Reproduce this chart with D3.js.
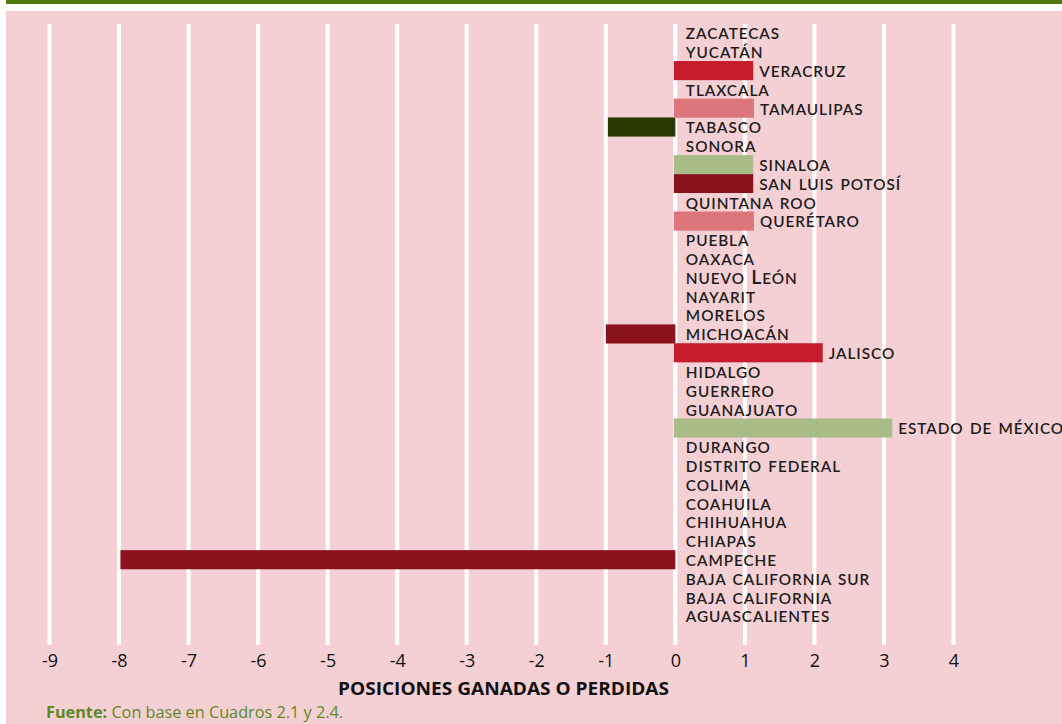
<!DOCTYPE html>
<html>
<head>
<meta charset="utf-8">
<script src="https://cdn.jsdelivr.net/npm/d3@7"></script>
<style>
html, body { margin: 0; padding: 0; background: #ffffff; }
svg { display: block; }
</style>
</head>
<body>
<svg id="chart" width="1062" height="724"></svg>
<script>
// States, alphabetical (bottom to top in the chart)
const states = [
  "aguascalientes", "baja california", "baja california sur", "campeche", "chiapas",
  "chihuahua", "coahuila", "colima", "distrito federal", "durango",
  "estado de méxico", "guanajuato", "guerrero", "hidalgo", "jalisco",
  "michoacán", "morelos", "nayarit", "nuevo León", "oaxaca",
  "puebla", "querétaro", "quintana roo", "san luis potosí", "sinaloa",
  "sonora", "tabasco", "tamaulipas", "tlaxcala", "veracruz",
  "yucatán", "zacatecas"
];
// Positions gained (+) or lost (-), as drawn
const positions = [
  0, 0, 0, -7.98, 0,
  0, 0, 0, 0, 0,
  3.12, 0, 0, 0, 2.12,
  -1.0, 0, 0, 0, 0,
  0, 1.13, 0, 1.12, 1.12,
  0, -0.97, 1.13, 0, 1.12,
  0, 0
];
// Colour group of each bar
const groups = [
  "none", "none", "none", "darkred", "none",
  "none", "none", "none", "none", "none",
  "sage", "none", "none", "none", "red",
  "darkred", "none", "none", "none", "none",
  "none", "pink", "none", "darkred", "sage",
  "none", "olive", "pink", "none", "red",
  "none", "none"
];
const tickValues = [-9, -8, -7, -6, -5, -4, -3, -2, -1, 0, 1, 2, 3, 4];
const axisTitle = "POSICIONES GANADAS O PERDIDAS";
const sourceBold = "Fuente:";
const sourceText = " Con base en Cuadros 2.1 y 2.4.";

const groupColors = {
  red: "#c41c2a",
  pink: "#dc767c",
  olive: "#283800",
  sage: "#a8bc88",
  darkred: "#8a121d",
  none: "none"
};

const svg = d3.select("#chart");
const W = 1062, H = 724;

// top green rule and pink panel
svg.append("rect").attr("x", 6).attr("y", 0).attr("width", W - 6).attr("height", 4).attr("fill", "#527a12");
svg.append("rect").attr("x", 6).attr("y", 11).attr("width", W - 6).attr("height", H - 11).attr("fill", "#f4d0d5");

const x = d3.scaleLinear().domain([-9, 4]).range([49.5, 953.5]);
const y = d3.scaleBand().domain(states.slice().reverse()).range([23.4, 625.4]).padding(0);

// gridlines
svg.append("g").selectAll("line").data(tickValues).join("line")
  .attr("x1", d => x(d)).attr("x2", d => x(d))
  .attr("y1", 24).attr("y2", 645)
  .attr("stroke", "#ffffff").attr("stroke-width", 4);

const data = states.map((s, i) => ({ name: s, v: positions[i], g: groups[i] }));

// bars
svg.append("g").selectAll("rect").data(data.filter(d => d.v !== 0)).join("rect")
  .attr("x", d => d.v > 0 ? x(0) - 1.5 : x(d.v))
  .attr("width", d => d.v > 0 ? x(d.v) - x(0) + 1.5 : x(0) - x(d.v))
  .attr("y", d => y(d.name))
  .attr("height", y.bandwidth() + 0.3)
  .attr("fill", d => groupColors[d.g]);

// labels: small caps built from runs (capitals full size, lowercase as smaller capitals)
const FULL = 19.5, SMALL = 15.3;
function runs(str) {
  const out = [];
  for (const ch of str) {
    const isCap = ch !== ch.toLowerCase();
    const last = out[out.length - 1];
    if (last && last.cap === isCap) last.t += ch;
    else out.push({ t: ch, cap: isCap });
  }
  return out;
}
const labels = svg.append("g").selectAll("text").data(data).join("text")
  .attr("x", d => d.v > 0 ? x(d.v) + 6 : x(0) + 10.5)
  .attr("y", d => y(d.name) + y.bandwidth() / 2 + 6.5)
  .attr("font-family", "Lato, sans-serif")
  .attr("font-size", SMALL)
  .attr("font-weight", 600)
  .attr("letter-spacing", 0.95)
  .attr("word-spacing", 1.5)
  .attr("fill", "#1c1c1c");
labels.selectAll("tspan").data(d => runs(d.name)).join("tspan")
  .attr("font-size", r => r.cap ? FULL : SMALL)
  .text(r => r.t.toUpperCase());

// axis
const axis = d3.axisBottom(x).tickValues(tickValues).tickSize(0).tickPadding(0).tickFormat(d => d < 0 ? "-" + Math.abs(d) : d);
const ax = svg.append("g").attr("transform", "translate(0,654)").call(axis);
ax.select(".domain").remove();
ax.selectAll("text")
  .attr("font-family", "'Open Sans', sans-serif")
  .attr("font-size", 18)
  .attr("fill", "#111")
  .attr("dy", "0.71em");

// axis title
svg.append("text")
  .attr("x", 338).attr("y", 695)
  .attr("font-family", "'Open Sans', sans-serif")
  .attr("font-weight", "bold")
  .attr("font-size", 18)
  .attr("fill", "#111")
  .attr("textLength", 331)
  .attr("lengthAdjust", "spacingAndGlyphs")
  .text(axisTitle);

// source
const src = svg.append("text")
  .attr("x", 46).attr("y", 718)
  .attr("font-family", "'Open Sans', sans-serif")
  .attr("font-size", 16)
  .attr("fill", "#5a8a1e")
  .attr("textLength", 297)
  .attr("lengthAdjust", "spacingAndGlyphs");
src.append("tspan").attr("font-weight", "bold").text(sourceBold);
src.append("tspan").text(sourceText);
</script>
</body>
</html>
